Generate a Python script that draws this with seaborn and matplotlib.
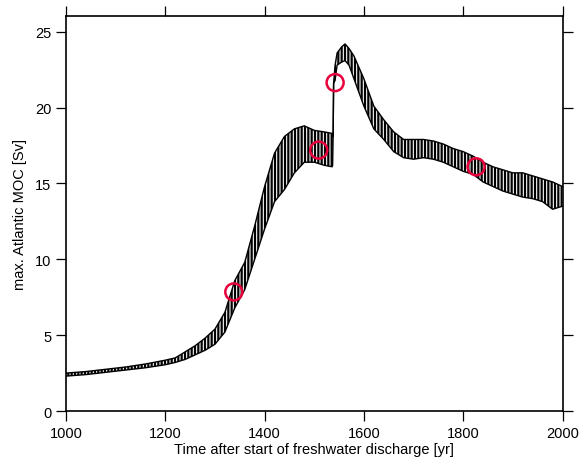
import matplotlib
matplotlib.use("Agg")
import matplotlib.pyplot as plt
import seaborn as sns
import pandas as pd

# Envelope of the oscillating MOC time series
years = [1000, 1040, 1080, 1120, 1160, 1200, 1220, 1240, 1260, 1280, 1300, 1320,
         1340, 1360, 1380, 1400, 1420, 1440, 1460, 1480, 1500, 1520, 1536, 1537,
         1538, 1539, 1542, 1546, 1555, 1562, 1570, 1580, 1600, 1620, 1640, 1660,
         1680, 1700, 1720, 1740, 1760, 1780, 1800, 1820, 1840, 1860, 1880, 1900,
         1920, 1940, 1960, 1980, 2000]
moc_low = [2.3, 2.4, 2.55, 2.7, 2.85, 3.05, 3.2, 3.4, 3.7, 4.0, 4.4, 5.2,
           6.8, 8.0, 10.0, 12.0, 13.8, 14.6, 15.7, 16.4, 16.4, 16.2, 16.1, 16.2,
           18.1, 21.6, 21.8, 22.8, 23.0, 23.1, 22.8, 21.9, 20.1, 18.6, 17.9, 17.1,
           16.7, 16.6, 16.7, 16.6, 16.4, 16.1, 15.8, 15.6, 15.1, 14.8, 14.5, 14.3,
           14.1, 14.0, 13.8, 13.3, 13.5]
moc_high = [2.5, 2.6, 2.75, 2.9, 3.1, 3.35, 3.5, 3.9, 4.3, 4.8, 5.4, 6.5,
            8.6, 9.8, 12.2, 14.8, 17.0, 18.1, 18.6, 18.8, 18.5, 18.4, 18.3, 18.1,
            18.1, 21.6, 22.8, 23.6, 24.0, 24.2, 23.9, 23.4, 21.9, 20.1, 19.2, 18.4,
            17.9, 17.9, 17.9, 17.8, 17.6, 17.3, 17.1, 16.8, 16.4, 16.1, 15.9, 15.7,
            15.7, 15.5, 15.3, 15.1, 14.8]

# Highlighted points (red circles)
mark_years = [1338, 1509, 1542, 1826]
mark_moc = [7.85, 17.2, 21.65, 16.1]

x_ticks = [1000, 1200, 1400, 1600, 1800, 2000]
y_ticks = [0, 5, 10, 15, 20, 25]

sns.set_style("ticks")
plt.rcParams["font.family"] = ["Liberation Sans", "DejaVu Sans"]
plt.rcParams["hatch.linewidth"] = 1.6
plt.rcParams["text.color"] = "black"
plt.rcParams["axes.labelcolor"] = "black"

df = pd.DataFrame({"year": years, "low": moc_low, "high": moc_high})
dm = pd.DataFrame({"year": mark_years, "moc": mark_moc})

fig = plt.figure(figsize=(5.82, 4.64), dpi=100)
ax = fig.add_axes([66 / 582, 1 - 412 / 464, (562.5 - 66) / 582, (412 - 16.7) / 464])

ax.fill_between(df["year"], df["low"], df["high"], facecolor="none",
                edgecolor="black", hatch="|||||", linewidth=0)
sns.lineplot(data=df, x="year", y="low", color="black", lw=1.0, ax=ax)
sns.lineplot(data=df, x="year", y="high", color="black", lw=1.0, ax=ax)
sns.scatterplot(data=dm, x="year", y="moc", s=150, facecolor="none",
                edgecolor="#e8003c", linewidth=1.8, ax=ax, zorder=5)

ax.set_xlim(1000, 2000)
ax.set_ylim(0, 26.06)
ax.set_xticks(x_ticks)
ax.set_yticks(y_ticks)
ax.tick_params(direction="out", length=7, width=0.9, top=True, right=True,
               labeltop=False, labelright=False, labelsize=10.5, colors="black")
for sp in ax.spines.values():
    sp.set_visible(True)
    sp.set_linewidth(1.2)
    sp.set_color("black")
ax.set_xlabel("Time after start of freshwater discharge [yr]", fontsize=10.5, labelpad=2)
ax.set_ylabel("max. Atlantic MOC [Sv]", fontsize=10.5, labelpad=6)

fig.savefig("out.png", dpi=100)
